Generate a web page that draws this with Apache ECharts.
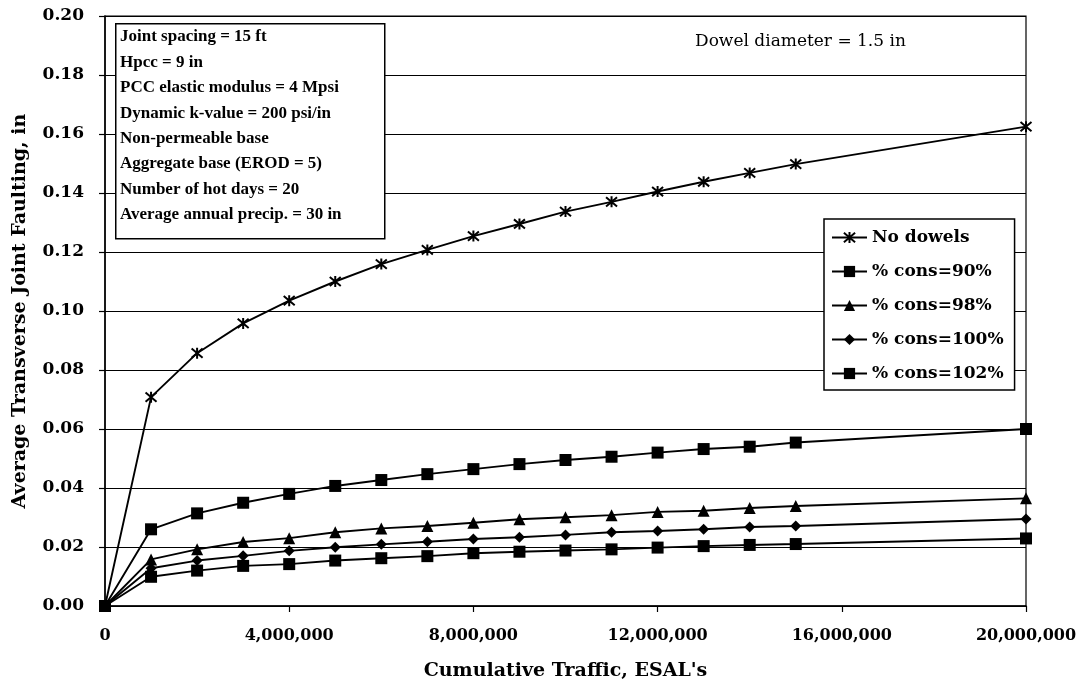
<!DOCTYPE html>
<html>
<head>
<meta charset="utf-8">
<script src="https://cdn.jsdelivr.net/npm/echarts@6/dist/echarts.min.js"></script>
<style>
html,body{margin:0;padding:0;background:#fff;}
#chart{width:1083px;height:692px;}
</style>
</head>
<body>
<div id="chart"></div>
<script>
// ---- data ----
var traffic = [0, 1000000, 2000000, 3000000, 4000000, 5000000, 6000000, 7000000, 8000000, 9000000, 10000000, 11000000, 12000000, 13000000, 14000000, 15000000, 20000000];
var noDowels = [0, 0.0708, 0.0857, 0.0958, 0.1035, 0.1100, 0.1159, 0.1207, 0.1254, 0.1295, 0.1337, 0.1370, 0.1405, 0.1438, 0.1468, 0.1498, 0.1625];
var cons90 = [0, 0.0260, 0.0314, 0.0350, 0.0380, 0.0407, 0.0427, 0.0447, 0.0464, 0.0481, 0.0495, 0.0506, 0.0520, 0.0532, 0.0540, 0.0554, 0.0600];
var cons98 = [0, 0.0158, 0.0192, 0.0217, 0.0230, 0.0250, 0.0263, 0.0271, 0.0282, 0.0294, 0.0301, 0.0308, 0.0319, 0.0323, 0.0332, 0.0339, 0.0365];
var cons100 = [0, 0.0128, 0.0154, 0.0170, 0.0187, 0.0199, 0.0209, 0.0218, 0.0227, 0.0233, 0.0241, 0.0250, 0.0254, 0.0260, 0.0268, 0.0271, 0.0295];
var cons102 = [0, 0.0099, 0.0120, 0.0136, 0.0142, 0.0154, 0.0162, 0.0169, 0.0179, 0.0184, 0.0188, 0.0192, 0.0198, 0.0203, 0.0207, 0.0210, 0.0229];
var seriesNames = ['No dowels', '% cons=90%', '% cons=98%', '% cons=100%', '% cons=102%'];
var infoLines = [
  'Joint spacing = 15 ft',
  'Hpcc = 9 in',
  'PCC elastic modulus = 4 Mpsi',
  'Dynamic k-value = 200 psi/in',
  'Non-permeable base',
  'Aggregate base (EROD = 5)',
  'Number of hot days = 20',
  'Average annual precip. = 30 in'
];
var dowelNote = 'Dowel diameter = 1.5 in';
var xTitle = "Cumulative Traffic, ESAL's";
var yTitle = 'Average Transverse Joint Faulting, in';

function pairs(ys){ return traffic.map(function(x,i){ return [x, ys[i]]; }); }

var axisFont = 'DejaVu Serif';
var boxFont = 'Liberation Serif';
var starPath = 'path://M-1,-1L1,1M-1,1L1,-1M0,-1.2L0,1.2';

function mkSeries(name, ys, symbol, size, extra){
  var s = {
    name: name, type: 'line', data: pairs(ys),
    symbol: symbol, symbolSize: size, showSymbol: true,
    lineStyle: {color: '#000', width: 1.9},
    itemStyle: {color: '#000', borderColor: '#000', borderWidth: 0},
    emphasis: {disabled: true},
    z: 3
  };
  if (extra) { for (var k in extra) s[k] = extra[k]; }
  return s;
}

var graphics = [];
graphics.push({
  type: 'rect', left: 115, top: 23, z: 10,
  shape: {width: 269, height: 215},
  style: {fill: '#fff', stroke: '#000', lineWidth: 1.5}
});
infoLines.forEach(function(t, i){
  graphics.push({
    type: 'text', x: 120, y: 37 + i * 25.4, z: 11,
    style: {text: t, font: 'bold 17px "' + boxFont + '"', fill: '#000', verticalAlign: 'middle'}
  });
});
graphics.push({
  type: 'text', x: 695, y: 42, z: 11,
  style: {text: dowelNote, font: '17px "' + axisFont + '"', fill: '#000', verticalAlign: 'middle'}
});

var chart = echarts.init(document.getElementById('chart'), null, {renderer: 'canvas'});
chart.setOption({
  animation: false,
  backgroundColor: '#fff',
  grid: {left: 105, right: 57, top: 16, bottom: 86, show: true, borderColor: '#000', borderWidth: 1.2, containLabel: false},
  xAxis: {
    type: 'value', min: 0, max: 20000000, interval: 4000000,
    name: xTitle, nameLocation: 'middle', nameGap: 56,
    nameTextStyle: {fontFamily: axisFont, fontWeight: 'bold', fontSize: 19, color: '#000'},
    axisLine: {show: true, onZero: false, lineStyle: {color: '#000', width: 1.5}},
    axisTick: {show: true, length: 6, lineStyle: {color: '#000', width: 1.2}},
    axisLabel: {margin: 22, fontFamily: axisFont, fontWeight: 'bold', fontSize: 16, color: '#000',
      formatter: function(v){ return v === 0 ? '0' : v.toLocaleString('en-US'); }},
    splitLine: {show: false}
  },
  yAxis: {
    type: 'value', min: 0, max: 0.2, interval: 0.02,
    name: yTitle, nameLocation: 'middle', nameGap: 75,
    nameTextStyle: {fontFamily: axisFont, fontWeight: 'bold', fontSize: 19, color: '#000'},
    axisLine: {show: true, lineStyle: {color: '#000', width: 1.5}},
    axisTick: {show: true, length: 6, lineStyle: {color: '#000', width: 1.2}},
    axisLabel: {margin: 21, fontFamily: axisFont, fontWeight: 'bold', fontSize: 17, color: '#000',
      formatter: function(v){ return v.toFixed(2); }},
    splitLine: {show: true, lineStyle: {color: '#000', width: 1.1}}
  },
  legend: {
    orient: 'vertical', left: 824, top: 219,
    data: seriesNames,
    backgroundColor: '#fff', borderColor: '#000', borderWidth: 1.5,
    padding: [10, 11, 8, 7], itemGap: 17, itemWidth: 35, itemHeight: 14,
    textStyle: {fontFamily: axisFont, fontWeight: 'bold', fontSize: 17, color: '#000'},
    selectedMode: false, z: 10
  },
  series: [
    mkSeries(seriesNames[0], noDowels, starPath, 11, {itemStyle: {color: '#000', borderColor: '#000', borderWidth: 2}}),
    mkSeries(seriesNames[1], cons90, 'rect', 12),
    mkSeries(seriesNames[2], cons98, 'triangle', 12),
    mkSeries(seriesNames[3], cons100, 'diamond', 11),
    mkSeries(seriesNames[4], cons102, 'rect', 12)
  ],
  graphic: graphics
});
</script>
</body>
</html>
